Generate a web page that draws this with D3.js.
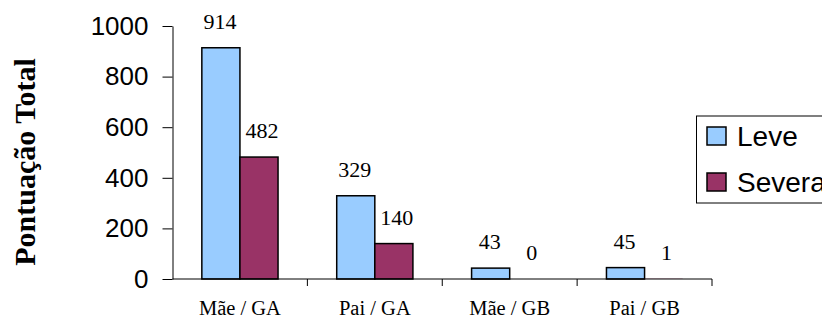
<!DOCTYPE html>
<html>
<head>
<meta charset="utf-8">
<script src="https://cdn.jsdelivr.net/npm/d3@7"></script>
<style>
  html, body { margin: 0; padding: 0; background: #fff; overflow: hidden; }
  svg { display: block; }
</style>
</head>
<body>
<svg id="chart" width="822" height="324"></svg>
<script>
// Pontuação total por grupo e gravidade
const categories = ["Mãe / GA", "Pai / GA", "Mãe / GB", "Pai / GB"];
const seriesNames = ["Leve", "Severa"];
const leveValues = [914, 329, 43, 45];
const severaValues = [482, 140, 0, 1];
const yTicks = [0, 200, 400, 600, 800, 1000];
const seriesColors = ["#99CCFF", "#993366"];

const svg = d3.select("#chart");
const plot = { left: 172.5, right: 712, top: 26, bottom: 279 };

const y = d3.scaleLinear().domain([0, 1000]).range([plot.bottom, plot.top]);
const x0 = d3.scaleBand().domain(categories).range([plot.left, plot.right]).padding(0);
const x1 = d3.scaleBand().domain(seriesNames).range([0, x0.bandwidth()])
  .paddingInner(0).paddingOuter(0.77);

const rows = categories.map((c, i) => ({
  cat: c,
  values: [
    { series: seriesNames[0], value: leveValues[i] },
    { series: seriesNames[1], value: severaValues[i] }
  ]
}));
const color = d3.scaleOrdinal().domain(seriesNames).range(seriesColors);

// Bars (outline only where the bar is at least a pixel tall)
const groups = svg.append("g").selectAll("g").data(rows).join("g")
  .attr("transform", d => `translate(${x0(d.cat)},0)`);

groups.selectAll("rect")
  .data(d => d.values.filter(v => v.value > 0))
  .join("rect")
  .attr("x", v => x1(v.series))
  .attr("y", v => y(v.value))
  .attr("width", x1.bandwidth())
  .attr("height", v => y(0) - y(v.value))
  .attr("fill", v => color(v.series))
  .attr("stroke", v => (y(0) - y(v.value) >= 1 ? "#000" : "none"))
  .attr("stroke-width", 1.5);

// Value labels above each bar
groups.selectAll("text")
  .data(d => d.values)
  .join("text")
  .attr("x", v => x1(v.series) + x1.bandwidth() / 2 + (v.series === "Severa" ? 3 : -1))
  .attr("y", v => y(v.value) - 19)
  .attr("text-anchor", "middle")
  .attr("font-family", "'Liberation Serif', 'Times New Roman', serif")
  .attr("font-size", 22)
  .attr("fill", "#000")
  .text(v => v.value);

// Y axis
const yAxis = d3.axisLeft(y).tickValues(yTicks).tickFormat(d3.format("d"))
  .tickSize(10).tickPadding(14).tickSizeOuter(0);
const yG = svg.append("g").attr("transform", `translate(${plot.left},0)`).call(yAxis);
yG.select(".domain").attr("stroke", "#000").attr("stroke-width", 1);
yG.selectAll(".tick line").attr("stroke", "#000").attr("stroke-width", 1);
yG.selectAll(".tick text")
  .attr("font-family", "'Liberation Sans', Arial, sans-serif")
  .attr("font-size", 26)
  .attr("fill", "#000");

// X axis with tick marks between categories
svg.append("line")
  .attr("x1", plot.left).attr("x2", plot.right)
  .attr("y1", y(0)).attr("y2", y(0))
  .attr("stroke", "#000").attr("stroke-width", 1);

const boundaries = categories.map(c => x0(c)).slice(1).concat([plot.right]);
svg.append("g").selectAll("line").data(boundaries).join("line")
  .attr("x1", d => d).attr("x2", d => d)
  .attr("y1", y(0)).attr("y2", y(0) + 7)
  .attr("stroke", "#000").attr("stroke-width", 1);

svg.append("g").selectAll("text").data(categories).join("text")
  .attr("x", d => x0(d) + x0.bandwidth() / 2)
  .attr("y", 315)
  .attr("text-anchor", "middle")
  .attr("font-family", "'Liberation Serif', 'Times New Roman', serif")
  .attr("font-size", 20.5)
  .attr("fill", "#000")
  .text(d => d);

// Y axis title
svg.append("text")
  .attr("transform", "translate(35,162) rotate(-90)")
  .attr("text-anchor", "middle")
  .attr("font-family", "'Liberation Serif', 'Times New Roman', serif")
  .attr("font-weight", "bold")
  .attr("font-size", 30)
  .attr("fill", "#000")
  .text("Pontuação Total");

// Legend
const legend = svg.append("g");
const legendTop = 116, legendBottom = 203, rowGap = 46;
legend.append("rect")
  .attr("x", 696.5).attr("y", legendTop)
  .attr("width", 200).attr("height", legendBottom - legendTop)
  .attr("fill", "#fff").attr("stroke", "#000").attr("stroke-width", 1);

const items = legend.selectAll("g.item").data(seriesNames).join("g")
  .attr("class", "item")
  .attr("transform", (d, i) => `translate(707,${legendTop + 20 + i * rowGap})`);
items.append("rect")
  .attr("x", 0).attr("y", -9).attr("width", 19).attr("height", 18)
  .attr("fill", d => color(d)).attr("stroke", "#000").attr("stroke-width", 1.5);
items.append("text")
  .attr("x", 30).attr("y", 10)
  .attr("font-family", "'Liberation Sans', Arial, sans-serif")
  .attr("font-size", 28)
  .attr("fill", "#000")
  .text(d => d);
</script>
</body>
</html>
